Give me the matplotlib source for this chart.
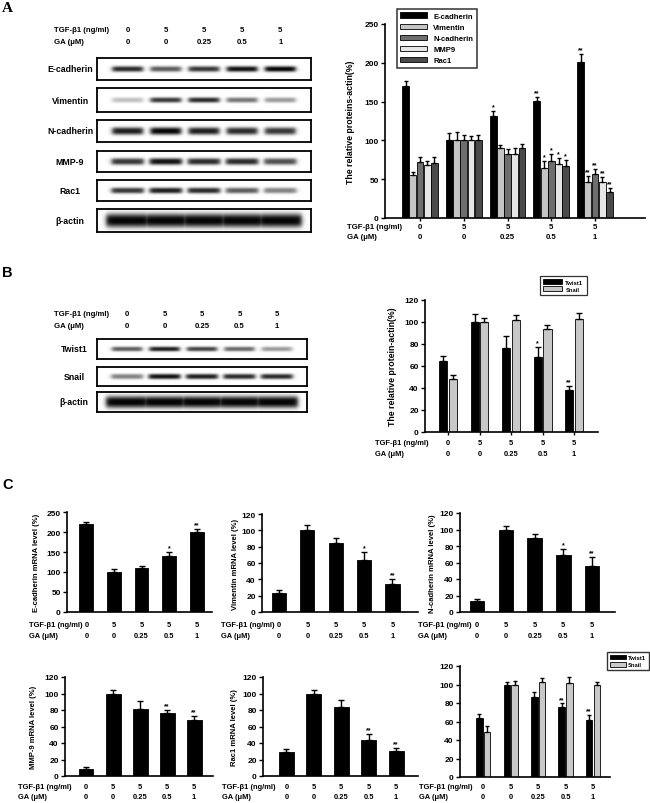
import matplotlib
matplotlib.use('Agg')
import matplotlib.pyplot as plt
import numpy as np
from matplotlib import transforms
from matplotlib.patches import Patch

plt.rcParams['font.family'] = ['Liberation Sans', 'DejaVu Sans']
plt.rcParams['font.weight'] = 'bold'
plt.rcParams['axes.labelweight'] = 'bold'

# ---------------- data ----------------
tgf_labels = ['0', '5', '5', '5', '5']
ga_labels = ['0', '0', '0.25', '0.5', '1']

# Panel A western blot band intensities (relative darkness)
blotA_names = ['E-cadherin', 'Vimentin', 'N-cadherin', 'MMP-9', 'Rac1', '\u03b2-actin']
blotA_ecad = [0.85, 0.65, 0.80, 0.95, 1.00]
blotA_vim = [0.25, 0.80, 0.85, 0.55, 0.40]
blotA_ncad = [0.90, 1.00, 0.90, 0.85, 0.80]
blotA_mmp9 = [0.80, 0.95, 0.85, 0.85, 0.70]
blotA_rac1 = [0.80, 0.90, 0.85, 0.65, 0.50]
blotA_actin = [1.0, 1.0, 1.0, 1.0, 1.0]

# Panel B western blot band intensities
blotB_names = ['Twist1', 'Snail', '\u03b2-actin']
blotB_twist = [0.65, 0.90, 0.75, 0.60, 0.40]
blotB_snail = [0.50, 0.95, 0.90, 0.85, 0.85]
blotB_actin = [1.0, 1.0, 1.0, 1.0, 1.0]

# Panel A quantification
A_series = ['E-cadherin', 'Vimentin', 'N-cadherin', 'MMP9', 'Rac1']
A_ecad = [170, 100, 132, 151, 201]
A_ecad_err = [7, 10, 6, 5, 10]
A_ecad_sig = ['', '', '*', '**', '**']
A_vim = [55, 100, 90, 65, 47]
A_vim_err = [4, 11, 4, 8, 7]
A_vim_sig = ['', '', '', '*', '**']
A_ncad = [72, 100, 83, 74, 57]
A_ncad_err = [6, 7, 6, 8, 6]
A_ncad_sig = ['', '', '', '*', '**']
A_mmp9 = [68, 100, 83, 70, 47]
A_mmp9_err = [5, 6, 7, 7, 6]
A_mmp9_sig = ['', '', '', '*', '**']
A_rac1 = [71, 100, 90, 67, 34]
A_rac1_err = [7, 7, 5, 8, 5]
A_rac1_sig = ['', '', '', '*', '**']

# Panel B quantification
B_twist = [64.5, 100, 76, 68, 38]
B_twist_err = [5, 7, 11, 9, 4]
B_twist_sig = ['', '', '', '*', '**']
B_snail = [48, 100, 102, 94, 103]
B_snail_err = [4, 4, 4, 3, 5]

# Panel C mRNA levels
C_ecad = [219, 99, 109, 140, 200]
C_ecad_err = [6, 9, 6, 10, 8]
C_ecad_sig = ['', '', '', '*', '**']
C_vim = [23, 100, 85, 64, 34]
C_vim_err = [4.5, 6, 6, 10, 6.5]
C_vim_sig = ['', '', '', '*', '**']
C_ncad = [13, 100, 89.5, 69.5, 56]
C_ncad_err = [2.5, 4.5, 4.5, 7, 11]
C_ncad_sig = ['', '', '', '*', '**']
C_mmp9 = [8, 100, 81, 76, 68]
C_mmp9_err = [2.5, 4.5, 9.5, 4, 5]
C_mmp9_sig = ['', '', '', '**', '**']
C_rac1 = [29, 100, 83.5, 44, 30.5]
C_rac1_err = [4, 4, 9, 7, 4]
C_rac1_sig = ['', '', '', '**', '**']
C_twist = [63.5, 99.5, 86.5, 76, 62]
C_twist_err = [5, 3.5, 5.5, 3.5, 5.5]
C_twist_sig = ['', '', '', '**', '**']
C_snail = [49, 99.5, 102.5, 101.5, 99]
C_snail_err = [6.5, 4, 4, 6.5, 4]

# ---------------- figure ----------------
W, H = 650, 804
fig = plt.figure(figsize=(W / 100, H / 100), dpi=100)
fig.patch.set_facecolor('white')


def px_axes(l, t, r, b):
    return fig.add_axes([l / W, 1 - b / H, (r - l) / W, (b - t) / H])


def fy(y):
    return 1 - y / H


def draw_blot(l, t, r, b, intens, thick, hw, label, label_cx):
    ax = px_axes(l, t, r, b)
    xs = np.linspace(-0.8, 4.8, 600)
    ys = np.linspace(0, 1, 80)
    lat = np.zeros_like(xs)
    for i, v in enumerate(intens):
        lat = np.maximum(lat, v / (1 + np.exp((np.abs(xs - i) - hw) / 0.035)))
    vert = np.exp(-(np.abs(ys - 0.5) / thick) ** 2.6)
    dark = np.outer(vert, lat)
    img = 1 - 0.98 * np.clip(dark, 0, 1)
    ax.imshow(img, cmap='gray', vmin=0, vmax=1, extent=[-0.8, 4.8, 0, 1],
              origin='lower', aspect='auto', interpolation='bilinear')
    ax.set_xlim(-0.8, 4.8)
    ax.set_ylim(0, 1)
    ax.set_xticks([])
    ax.set_yticks([])
    for s in ax.spines.values():
        s.set_linewidth(1.3)
    fig.text(label_cx / W, fy((t + b) / 2), label, ha='center', va='center',
             fontsize=6.3, fontweight='bold')
    return ax


def header_rows(ax, hx, y1, y2, fs):
    tr = transforms.blended_transform_factory(ax.transData, fig.transFigure)
    for i in range(5):
        ax.text(i, fy(y1), tgf_labels[i], transform=tr, ha='center', va='center',
                fontsize=fs, fontweight='bold')
        ax.text(i, fy(y2), ga_labels[i], transform=tr, ha='center', va='center',
                fontsize=fs, fontweight='bold')
    fig.text(hx / W, fy(y1), 'TGF-\u03b21 (ng/ml)', ha='left', va='center',
             fontsize=fs, fontweight='bold')
    fig.text(hx / W, fy(y2), 'GA (\u03bcM)', ha='left', va='center',
             fontsize=fs, fontweight='bold')


def bar_axes(l, t, r, b, xlim, ylim, yticks, ylabel=None, ylab_off=26,
             ylab_fs=5.5, tick_fs=6, xticks=False):
    ax = px_axes(l, t, r, b)
    ax.set_xlim(*xlim)
    ax.set_ylim(*ylim)
    ax.set_yticks(yticks)
    ax.spines['top'].set_visible(False)
    ax.spines['right'].set_visible(False)
    ax.spines['left'].set_linewidth(1.2)
    ax.spines['bottom'].set_linewidth(1.2)
    ax.tick_params(axis='y', length=3, width=1, labelsize=tick_fs, pad=1.5)
    for lab in ax.get_yticklabels():
        lab.set_fontweight('bold')
    ax.set_xticks(range(5))
    ax.tick_params(axis='x', length=2.5 if xticks else 0, width=1,
                   labelbottom=False)
    if ylabel:
        ax.set_ylabel(ylabel, fontsize=ylab_fs, fontweight='bold')
        ax.yaxis.set_label_coords(-ylab_off / (r - l), 0.5)
    return ax


def draw_series(ax, x, vals, errs, sigs, color, width, cap, sig_fs=5):
    ax.bar(x, vals, width, color=color, edgecolor='black', linewidth=0.6,
           zorder=2)
    ax.errorbar(x, vals, yerr=[np.zeros(len(vals)), errs], fmt='none',
                ecolor='black', elinewidth=1, capsize=cap, capthick=1, zorder=3)
    if sigs is not None:
        ylo, yhi = ax.get_ylim()
        for xi, v, e, s in zip(x, vals, errs, sigs):
            if s:
                ax.text(xi, v + e + 0.005 * (yhi - ylo), s, ha='center',
                        va='bottom', fontsize=sig_fs)


xg = np.arange(5)

# ---------------- panel labels ----------------
fig.text(2 / W, fy(9), 'A', fontsize=11, fontweight='bold', family='Liberation Serif',
         ha='left', va='center')
fig.text(2 / W, fy(273), 'B', fontsize=10.5, fontweight='bold', ha='left', va='center')
fig.text(2 / W, fy(485), 'C', fontsize=10.5, fontweight='bold', ha='left', va='center')

# ---------------- Panel A blot ----------------
rowsA = [(59, 81), (89, 113), (121, 143), (152, 173), (181, 202), (210, 233)]
intensA = [blotA_ecad, blotA_vim, blotA_ncad, blotA_mmp9, blotA_rac1, blotA_actin]
thickA = [0.13, 0.11, 0.17, 0.16, 0.14, 0.3]
hwA = [0.4, 0.4, 0.4, 0.42, 0.42, 0.56]
axesA = []
for (t, b), it, th, hw, nm in zip(rowsA, intensA, thickA, hwA, blotA_names):
    axesA.append(draw_blot(97, t, 311, b, it, th, hw, nm, 70))
header_rows(axesA[0], 54, 31, 43, 5.6)

# ---------------- Panel A chart ----------------
axA = bar_axes(385, 25, 645, 219, (-0.8, 5.14), (0, 250), [0, 50, 100, 150, 200, 250],
               ylabel='The relative proteins-actin(%)', ylab_off=30, ylab_fs=6.3,
               tick_fs=6, xticks=True)
colorsA = ['#000000', '#c4c4c4', '#6e6e6e', '#e6e6e6', '#4a4a4a']
valsA = [A_ecad, A_vim, A_ncad, A_mmp9, A_rac1]
errsA = [A_ecad_err, A_vim_err, A_ncad_err, A_mmp9_err, A_rac1_err]
sigsA = [A_ecad_sig, A_vim_sig, A_ncad_sig, A_mmp9_sig, A_rac1_sig]
wA = 0.155
for k in range(5):
    draw_series(axA, xg + (k - 2) * 0.165, valsA[k], errsA[k], sigsA[k],
                colorsA[k], wA, 1.6, sig_fs=5)
handlesA = [Patch(facecolor=c, edgecolor='black', linewidth=0.6) for c in colorsA]
legA = axA.legend(handlesA, A_series, loc='upper left', bbox_to_anchor=(0.046, 1.077),
                  fontsize=5.5, frameon=True, fancybox=False, edgecolor='black',
                  handlelength=3.5, handleheight=0.8, labelspacing=0.45,
                  borderpad=0.45, handletextpad=0.8, borderaxespad=0)
legA.get_frame().set_linewidth(1.1)
header_rows(axA, 347, 228, 238, 5.6)

# ---------------- Panel B blot ----------------
rowsB = [(340, 360), (368, 387), (393, 413)]
intensB = [blotB_twist, blotB_snail, blotB_actin]
thickB = [0.12, 0.14, 0.3]
hwB = [0.4, 0.42, 0.56]
axesB = []
for (t, b), it, th, hw, nm in zip(rowsB, intensB, thickB, hwB, blotB_names):
    axesB.append(draw_blot(97, t, 307, b, it, th, hw, nm, 74))
header_rows(axesB[0], 54, 315, 327, 5.6)

# ---------------- Panel B chart ----------------
axB = bar_axes(425, 301, 598, 433, (-0.73, 4.76), (0, 120), [0, 20, 40, 60, 80, 100, 120],
               ylabel='The relative protein-actin(%)', ylab_off=28, ylab_fs=6.3,
               tick_fs=6, xticks=True)
draw_series(axB, xg - 0.155, B_twist, B_twist_err, B_twist_sig, '#000000', 0.26, 2)
draw_series(axB, xg + 0.155, B_snail, B_snail_err, None, '#c8c8c8', 0.26, 2)
handlesB = [Patch(facecolor='#000000', edgecolor='black', linewidth=0.6),
            Patch(facecolor='#c8c8c8', edgecolor='black', linewidth=0.6)]
legB = axB.legend(handlesB, ['Twist1', 'Snail'], loc='upper left',
                  bbox_to_anchor=((540 - 425) / 173, (433 - 277) / 132),
                  fontsize=4.2, frameon=True, fancybox=False, edgecolor='black',
                  handlelength=3.2, handleheight=0.9, labelspacing=0.3,
                  borderpad=0.55, handletextpad=0.6, borderaxespad=0)
legB.get_frame().set_linewidth(0.9)
header_rows(axB, 375, 444, 455, 5.4)

# ---------------- Panel C row 1 ----------------
ax1 = bar_axes(67, 513, 212, 613, (-0.7, 4.55), (0, 250), [0, 50, 100, 150, 200, 250],
               ylabel='E-cadherin mRNA level (%)', ylab_off=27)
draw_series(ax1, xg, C_ecad, C_ecad_err, C_ecad_sig, '#000000', 0.5, 2.2)
header_rows(ax1, 29, 626, 637, 5.4)

ax2 = bar_axes(262, 515, 418, 613, (-0.6, 4.9), (0, 120), [0, 20, 40, 60, 80, 100, 120],
               ylabel='Vimentin mRNA level (%)', ylab_off=23)
draw_series(ax2, xg, C_vim, C_vim_err, C_vim_sig, '#000000', 0.5, 2.2)
header_rows(ax2, 221, 626, 637, 5.4)

ax3 = bar_axes(460, 514, 615, 613, (-0.6, 4.8), (0, 120), [0, 20, 40, 60, 80, 100, 120],
               ylabel='N-cadherin mRNA level (%)', ylab_off=24)
draw_series(ax3, xg, C_ncad, C_ncad_err, C_ncad_sig, '#000000', 0.5, 2.2)
header_rows(ax3, 418, 626, 637, 5.4)

# ---------------- Panel C row 2 ----------------
ax4 = bar_axes(65, 678, 213, 777, (-0.78, 4.7), (0, 120), [0, 20, 40, 60, 80, 100, 120],
               ylabel='MMP-9 mRNA level (%)', ylab_off=28)
draw_series(ax4, xg, C_mmp9, C_mmp9_err, C_mmp9_sig, '#000000', 0.55, 2.2)
header_rows(ax4, 18, 788, 798, 5.4)

ax5 = bar_axes(263, 678, 418, 777, (-0.85, 4.8), (0, 120), [0, 20, 40, 60, 80, 100, 120],
               ylabel='Rac1 mRNA level (%)', ylab_off=25)
draw_series(ax5, xg, C_rac1, C_rac1_err, C_rac1_sig, '#000000', 0.55, 2.2)
header_rows(ax5, 222, 788, 798, 5.4)

ax6 = bar_axes(460, 667, 610, 778, (-0.85, 4.62), (0, 120), [0, 20, 40, 60, 80, 100, 120])
draw_series(ax6, xg - 0.14, C_twist, C_twist_err, C_twist_sig, '#000000', 0.24, 1.6)
draw_series(ax6, xg + 0.14, C_snail, C_snail_err, None, '#c8c8c8', 0.24, 1.6)
handlesC = [Patch(facecolor='#000000', edgecolor='black', linewidth=0.6),
            Patch(facecolor='#c8c8c8', edgecolor='black', linewidth=0.6)]
legC = ax6.legend(handlesC, ['Twist1', 'Snail'], loc='upper left',
                  bbox_to_anchor=((607 - 460) / 150, (778 - 653) / 111),
                  fontsize=4.2, frameon=True, fancybox=False, edgecolor='black',
                  handlelength=2.8, handleheight=0.9, labelspacing=0.3,
                  borderpad=0.45, handletextpad=0.4, borderaxespad=0)
legC.get_frame().set_linewidth(1.0)
header_rows(ax6, 419, 788, 798, 5.4)

fig.savefig('out.png', dpi=100, facecolor='white')
